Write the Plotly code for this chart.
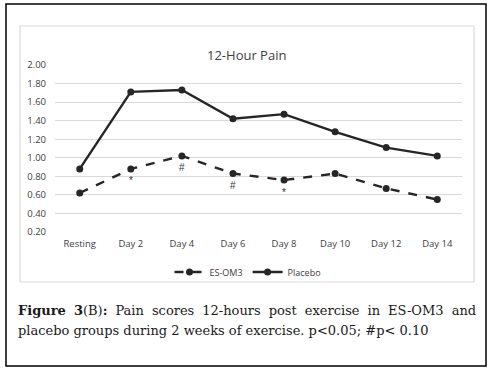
import plotly.graph_objects as go

categories = ["Resting", "Day 2", "Day 4", "Day 6", "Day 8", "Day 10", "Day 12", "Day 14"]
es_om3 = [0.62, 0.88, 1.02, 0.83, 0.76, 0.83, 0.67, 0.55]
placebo = [0.88, 1.71, 1.73, 1.42, 1.47, 1.28, 1.11, 1.02]
tick_vals = [0.20, 0.40, 0.60, 0.80, 1.00, 1.20, 1.40, 1.60, 1.80, 2.00]
sig_marks = [("Day 2", "*"), ("Day 4", "#"), ("Day 6", "#"), ("Day 8", "*")]

W, H = 493, 372
line_col = "#262626"

fig = go.Figure()
fig.add_trace(go.Scatter(x=categories, y=es_om3, name="ES-OM3", mode="lines+markers",
                         line=dict(color=line_col, width=2.4, dash="dash"),
                         marker=dict(size=7, color=line_col)))
fig.add_trace(go.Scatter(x=categories, y=placebo, name="Placebo", mode="lines+markers",
                         line=dict(color=line_col, width=2.4),
                         marker=dict(size=7, color=line_col)))

es_lookup = dict(zip(categories, es_om3))
for cat, sym in sig_marks:
    fig.add_annotation(x=cat, y=es_lookup[cat], text=sym, showarrow=False,
                       yshift=-12, font=dict(size=10, color="#333333", family="Liberation Sans"))

def px(x): return x / W
def py(y): return 1 - y / H

shapes = [
    dict(type="rect", xref="paper", yref="paper", x0=px(6), x1=px(486), y0=py(366), y1=py(4),
         line=dict(color="black", width=1.5), layer="below"),
    dict(type="rect", xref="paper", yref="paper", x0=px(20), x1=px(474), y0=py(282), y1=py(26),
         line=dict(color="#d9d9d9", width=1.2), layer="below"),
]

annotations = list(fig.layout.annotations)
annotations.append(dict(xref="paper", yref="paper", x=px(246), y=py(44), text="12-Hour Pain",
                        showarrow=False, font=dict(size=13, color="#404040", family="Open Sans")))

cap_font = dict(size=13, color="#1a1a1a", family="DejaVu Serif")
gap = " \u2009\u200a"
line1_words = ["<b>Figure</b>", "<b>3</b>(B)<b>:</b>", "Pain", "scores", "12-hours", "post",
               "exercise", "in", "ES-OM3", "and"]
annotations.append(dict(xref="paper", yref="paper", x=px(16), y=py(310), text=gap.join(line1_words),
                        xanchor="left", yanchor="middle", showarrow=False, font=cap_font))
annotations.append(dict(xref="paper", yref="paper", x=px(16), y=py(330),
                        text="placebo groups during 2 weeks of exercise. p&lt;0.05; #p&lt; 0.10",
                        xanchor="left", yanchor="middle", showarrow=False, font=cap_font))

fig.update_layout(
    width=W, height=H, margin=dict(l=0, r=0, t=0, b=0),
    paper_bgcolor="white", plot_bgcolor="white",
    shapes=shapes, annotations=annotations,
    showlegend=True,
    legend=dict(orientation="h", x=px(248), y=py(272), xanchor="center", yanchor="middle",
                font=dict(size=9, color="#404040", family="Open Sans"), bgcolor="rgba(0,0,0,0)",
                itemwidth=30),
    xaxis=dict(domain=[px(55), px(462)], type="category", showgrid=False, showline=False,
               automargin=False, ticks="", ticklabelstandoff=4,
               tickfont=dict(size=9.5, color="#404040", family="Open Sans"), fixedrange=True),
    yaxis=dict(domain=[py(232), py(65)], range=[0.2, 2.0], tickvals=tick_vals, tickformat=".2f",
               automargin=False, ticklabelstandoff=8, fixedrange=True,
               showgrid=True, gridcolor="#d9d9d9", gridwidth=1, zeroline=False, showline=False,
               ticks="", tickfont=dict(size=9.5, color="#404040", family="Open Sans")),
)

fig.write_html("out.html", config={"displayModeBar": False},
               post_script="document.body.style.margin='0';document.body.style.overflow='hidden';")
